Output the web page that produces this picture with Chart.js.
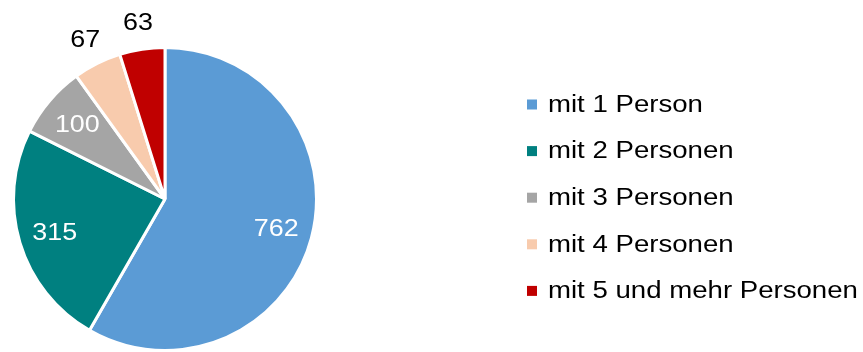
<!DOCTYPE html>
<html lang="de">
<head>
<meta charset="utf-8">
<title>Haushalte nach Größe</title>
<script src="https://cdn.jsdelivr.net/npm/chart.js@4.4.1/dist/chart.umd.min.js"></script>
<style>
    html, body {
        margin: 0;
        padding: 0;
        background: #ffffff;
        overflow: hidden;
    }
    #wrap {
        position: relative;
        width: 863px;
        height: 352px;
    }
</style>
</head>
<body>
<div id="wrap">
    <canvas id="chart"></canvas>
</div>
<script>
    // Haushalte nach Anzahl der Personen
    const categories = ['mit 1 Person', 'mit 2 Personen', 'mit 3 Personen', 'mit 4 Personen', 'mit 5 und mehr Personen'];
    const households = [762, 315, 100, 67, 63];
    const sliceColors = ['#5B9BD5', '#008080', '#A5A5A5', '#F8CBAD', '#C00000'];

    const fontFamily = '"Liberation Sans", Arial, Helvetica, sans-serif';

    // value labels: inside the slice in white, small slices get a black label outside
    let sliceLabels = {
        id: 'sliceLabels',
        afterDatasetsDraw(chart) {
            let ctx = chart.ctx;
            let meta = chart.getDatasetMeta(0);
            let total = households.reduce((a, b) => a + b, 0);

            ctx.save();
            ctx.font = '24px ' + fontFamily;
            ctx.textAlign = 'center';
            ctx.textBaseline = 'middle';

            meta.data.forEach((arc, i) => {
                let p = arc.getProps(['x', 'y', 'startAngle', 'endAngle', 'outerRadius'], true);
                let mid = (p.startAngle + p.endAngle) / 2;
                let outside = households[i] / total < 0.06;
                let r = outside ? p.outerRadius + 27 : p.outerRadius * 0.76;

                ctx.save();
                ctx.translate(p.x + Math.cos(mid) * r, p.y + Math.sin(mid) * r);
                ctx.scale(1.12, 1);
                ctx.fillStyle = outside ? '#000000' : '#ffffff';
                ctx.fillText(String(households[i]), 0, 1);
                ctx.restore();
            });

            ctx.restore();
        }
    };

    // legend on the right with wide text
    let sideLegend = {
        id: 'sideLegend',
        afterDraw(chart) {
            let ctx = chart.ctx;
            let left = 527;
            let top = 104.5;
            let step = 46.6;
            let box = 10;

            ctx.save();
            ctx.font = '23px ' + fontFamily;
            ctx.textAlign = 'left';
            ctx.textBaseline = 'middle';

            categories.forEach((label, i) => {
                let y = top + i * step;
                ctx.fillStyle = sliceColors[i];
                ctx.fillRect(left, y - box / 2, box, box);

                ctx.save();
                ctx.translate(left + box + 11, y + 1);
                ctx.scale(1.2, 1);
                ctx.fillStyle = '#000000';
                ctx.fillText(label, 0, 0);
                ctx.restore();
            });

            ctx.restore();
        }
    };

    let chart = document.getElementById('chart');

    let myChart = new Chart(chart, {
        type: 'pie',
        data: {
            labels: categories,
            datasets: [{
                data: households,
                backgroundColor: sliceColors,
                borderColor: '#ffffff',
                borderWidth: 3
            }]
        },
        options: {
            responsive: true,
            maintainAspectRatio: false,
            animation: false,
            layout: {
                padding: { top: 46, left: 0, right: 533, bottom: 0 }
            },
            plugins: {
                legend: {
                    display: false
                },
                tooltip: {
                    enabled: false
                }
            }
        },
        plugins: [sliceLabels, sideLegend]
    });
</script>
</body>
</html>
